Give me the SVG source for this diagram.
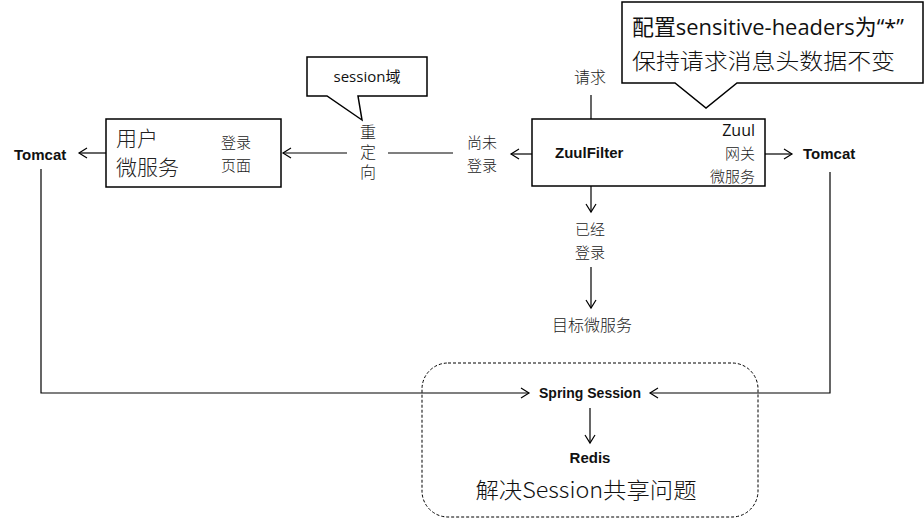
<svg xmlns="http://www.w3.org/2000/svg" width="924" height="518" viewBox="0 0 924 518">
<defs>
<marker id="arr" viewBox="-10 -6 12 12" refX="0" refY="0" markerWidth="12" markerHeight="12" markerUnits="userSpaceOnUse" orient="auto">
<path d="M-8,-5 L0,0 L-8,5" fill="none" stroke="#000" stroke-width="1.2"/>
</marker>
<style>
.ln{stroke:#000;stroke-width:1.2;fill:none}
.arrow{stroke:#000;stroke-width:1.2;fill:none;marker-end:url(#arr)}
.box{fill:#fff;stroke:#000;stroke-width:1.5}
.b{font-family:"Liberation Sans","Noto Sans CJK SC",sans-serif;font-weight:bold;font-size:15px;fill:#111}
.cj{font-family:"Noto Sans CJK SC","Liberation Sans",sans-serif;font-size:16px;fill:#222;font-weight:300}
.cs{font-family:"Noto Sans CJK SC","Liberation Sans",sans-serif;font-size:15px;fill:#222;font-weight:300}
.cjl{font-family:"Noto Sans CJK SC","Liberation Sans",sans-serif;font-size:21px;fill:#222;font-weight:300}
.c{text-anchor:middle}
</style>
</defs>
<rect width="924" height="518" fill="#fff"/>

<g id="connectors">
<line class="arrow" x1="106" y1="153" x2="79" y2="153"/>
<line class="arrow" x1="347" y1="153" x2="283" y2="153"/>
<line class="ln" x1="388" y1="153" x2="453" y2="153"/>
<line class="arrow" x1="532" y1="154" x2="511" y2="154"/>
<line class="arrow" x1="765" y1="154" x2="792" y2="154"/>
<line class="arrow" x1="591" y1="95" x2="591" y2="134"/>
<line class="arrow" x1="591" y1="186" x2="591" y2="212"/>
<line class="arrow" x1="591" y1="267" x2="591" y2="308"/>
<polyline class="arrow" points="41,169 41,393 529,393"/>
<polyline class="arrow" points="830,172 830,393 650,393"/>
<line class="arrow" x1="590" y1="408" x2="590" y2="443"/>
</g>

<g id="tomcat-left"><text class="b" x="14" y="160">Tomcat</text></g>

<g id="user-service">
<rect class="box" x="106" y="119" width="175" height="68"/>
<text class="cjl" x="116" y="146">用户<tspan x="116" y="175">微服务</tspan></text>
<text class="cs" x="221" y="148" font-size="16.5">登录</text>
<text class="cs" x="221" y="171" font-size="16.5">页面</text>
</g>

<g id="redirect">
<text class="cj" x="368" y="154" writing-mode="vertical-rl" text-anchor="middle" letter-spacing="4">重定向</text>
</g>

<g id="callout-session">
<path class="box" d="M307,57 H427 V96 H358 L362,120 L327,96 H307 Z" stroke-width="1.2"/>
<text class="c" x="367" y="82" font-family="Open Sans,Liberation Sans,Noto Sans CJK SC,sans-serif" font-size="15" fill="#111">session域</text>
</g>

<g id="not-logged">
<text class="cs c" x="482" y="148" font-size="16.5">尚未</text>
<text class="cs c" x="482" y="171" font-size="16.5">登录</text>
</g>

<g id="request"><text class="cj c" x="590" y="83">请求</text></g>

<g id="zuul">
<rect class="box" x="532" y="119" width="233" height="67"/>
<text class="b" x="555" y="158">ZuulFilter</text>
<text x="755" y="136" text-anchor="end" font-family="Open Sans,Liberation Sans,sans-serif" font-size="16" fill="#111">Zuul</text>
<text class="cs" x="755" y="159" text-anchor="end" font-size="16">网关</text>
<text class="cs" x="755" y="182" text-anchor="end" font-size="16">微服务</text>
</g>

<g id="tomcat-right"><text class="b" x="803" y="159">Tomcat</text></g>

<g id="callout-headers">
<path class="box" d="M622,2 H923 V83 H737 L706,108 L675,83 H622 Z" stroke-width="1.2"/>
<text x="632" y="35" font-family="Open Sans,Noto Sans CJK SC,sans-serif" font-size="22" fill="#111" textLength="272" lengthAdjust="spacingAndGlyphs">配置sensitive-headers为“*”</text>
<text x="632" y="69" font-family="Noto Sans CJK SC,sans-serif" font-size="22" font-weight="300" fill="#111" textLength="263" lengthAdjust="spacingAndGlyphs">保持请求消息头数据不变</text>
</g>

<g id="logged-in">
<text class="cs c" x="590" y="235" font-size="16.5">已经</text>
<text class="cs c" x="590" y="258" font-size="16.5">登录</text>
</g>

<g id="target-service"><text class="cj c" x="592" y="331" font-size="17">目标微服务</text></g>

<g id="session-area">
<rect x="422" y="363" width="336" height="154" rx="26" fill="none" stroke="#000" stroke-width="1" stroke-dasharray="3,2"/>
</g>

<g id="spring-session"><text class="b c" x="590" y="398" textLength="102" lengthAdjust="spacingAndGlyphs">Spring Session</text></g>
<g id="redis"><text class="b c" x="590" y="463">Redis</text></g>
<g id="share-label"><text x="586" y="498" text-anchor="middle" font-family="Noto Sans CJK SC,Open Sans,sans-serif" font-size="22" font-weight="300" fill="#111" textLength="221" lengthAdjust="spacingAndGlyphs">解决Session共享问题</text></g>
</svg>
